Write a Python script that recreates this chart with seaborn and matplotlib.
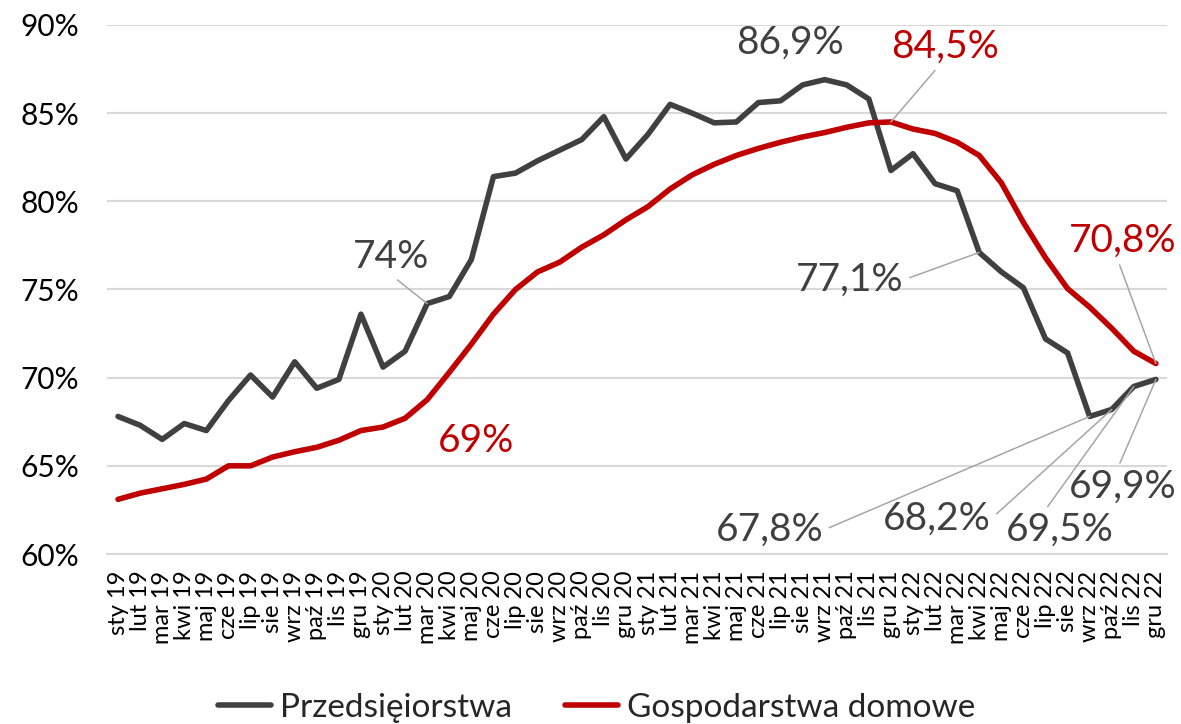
import numpy as np
import pandas as pd
import matplotlib
matplotlib.use("Agg")
import matplotlib.pyplot as plt
import seaborn as sns

# Month labels, Jan 2019 - Dec 2022
months = ["sty", "lut", "mar", "kwi", "maj", "cze", "lip", "sie", "wrz", "paź", "lis", "gru"]
years = ["19", "20", "21", "22"]
tick_labels = [f"{m} {y}" for y in years for m in months]

series_names = ["Przedsięiorstwa", "Gospodarstwa domowe"]

przedsiebiorstwa = [67.8, 67.3, 66.5, 67.4, 67.0, 68.7, 70.15, 68.9, 70.9, 69.4, 69.9, 73.6,
                    70.6, 71.5, 74.2, 74.6, 76.7, 81.4, 81.6, 82.3, 82.9, 83.5, 84.8, 82.4,
                    83.8, 85.5, 85.0, 84.45, 84.5, 85.6, 85.7, 86.6, 86.9, 86.6, 85.8, 81.75,
                    82.7, 81.0, 80.6, 77.1, 76.0, 75.1, 72.2, 71.4, 67.8, 68.2, 69.5, 69.9]
gospodarstwa = [63.1, 63.45, 63.7, 63.95, 64.25, 65.0, 65.0, 65.5, 65.8, 66.05, 66.45, 67.0,
                67.2, 67.7, 68.75, 70.3, 71.9, 73.6, 75.0, 76.0, 76.55, 77.4, 78.1, 78.95,
                79.7, 80.7, 81.5, 82.1, 82.6, 83.0, 83.35, 83.65, 83.9, 84.2, 84.45, 84.5,
                84.1, 83.85, 83.35, 82.6, 81.05, 78.8, 76.8, 75.05, 74.0, 72.8, 71.5, 70.8]

colors = {"Przedsięiorstwa": "#404040", "Gospodarstwa domowe": "#C00000"}

sns.set_theme(style="white")
plt.rcParams["font.family"] = ["Lato", "DejaVu Sans"]

n = len(tick_labels)
df = pd.DataFrame({
    "idx": list(range(n)) * 2,
    "value": przedsiebiorstwa + gospodarstwa,
    "series": [series_names[0]] * n + [series_names[1]] * n,
})

fig = plt.figure(figsize=(11.81, 7.24), dpi=100)
ax = fig.add_axes([0.0906, 0.2348, 0.8975, 0.7307])

sns.lineplot(data=df, x="idx", y="value", hue="series", hue_order=series_names,
             palette=colors, linewidth=4.0, ax=ax, legend=False, sort=False)
for line in ax.lines:
    line.set_solid_joinstyle("round")
    line.set_solid_capstyle("round")

ax.set_xlim(-0.5, n - 0.5)
ax.set_ylim(60, 90)
ax.set_yticks(np.arange(60, 91, 5))
ax.set_yticklabels([f"{v}%" for v in range(60, 91, 5)], fontsize=21.5, color="#000000")
ax.set_xticks(range(n))
ax.set_xticklabels(tick_labels, rotation=90, fontsize=17, color="#000000",
                   ha="center", va="top")
ax.set_xticks(np.arange(-0.5, n, 1), minor=True)
ax.tick_params(axis="x", which="major", length=0, pad=12)
ax.tick_params(axis="x", which="minor", length=10, width=1.2, color="#D9D9D9")
ax.tick_params(axis="y", length=0, pad=20)
ax.set_xlabel("")
ax.set_ylabel("")

ax.yaxis.grid(True, color="#D9D9D9", linewidth=1.5)
ax.set_axisbelow(True)
for side in ["left", "right", "top"]:
    ax.spines[side].set_visible(False)
ax.spines["bottom"].set_color("#D9D9D9")
ax.spines["bottom"].set_linewidth(1.5)


def fmt(v, decimals=1):
    return f"{v:.{decimals}f}".replace(".", ",") + "%"


leader = dict(arrowstyle="-", color="#A6A6A6", lw=1.1, shrinkA=2, shrinkB=0)
dark = colors[series_names[0]]
red = colors[series_names[1]]

# (series values, index, text position, colour, decimals, relpos of leader start or None)
labels = [
    (przedsiebiorstwa, 32, (30.43, 89.0), dark, 1, None),
    (gospodarstwa, 35, (37.45, 88.75), red, 1, (0.45, 0.0)),
    (przedsiebiorstwa, 14, (12.36, 76.85), dark, 0, (0.5, 0.0)),
    (gospodarstwa, 14, (16.2, 66.4), red, 0, None),
    (przedsiebiorstwa, 39, (33.15, 75.55), dark, 1, (1.0, 0.5)),
    (gospodarstwa, 47, (45.5, 77.75), red, 1, (0.45, 0.0)),
    (przedsiebiorstwa, 44, (29.5, 61.35), dark, 1, (1.0, 0.5)),
    (przedsiebiorstwa, 45, (37.1, 62.0), dark, 1, (1.0, 0.5)),
    (przedsiebiorstwa, 46, (42.65, 61.35), dark, 1, (0.35, 1.0)),
    (przedsiebiorstwa, 47, (45.5, 63.8), dark, 1, (0.45, 1.0)),
]
for values, i, (tx, ty), col, dec, relpos in labels:
    text = fmt(values[i], dec)
    if relpos is None:
        ax.text(tx, ty, text, color=col, fontsize=28, ha="center", va="center")
    else:
        props = dict(leader, relpos=relpos)
        ax.annotate(text, xy=(i, values[i]), xytext=(tx, ty), textcoords="data",
                    color=col, fontsize=28, ha="center", va="center",
                    arrowprops=props, annotation_clip=False)

handles = [plt.Line2D([0], [0], color=colors[s], lw=4.0, solid_capstyle="round")
           for s in series_names]
fig.legend(handles, series_names, loc="lower center", bbox_to_anchor=(0.505, -0.04),
           ncol=2, frameon=False, fontsize=24, handlelength=1.6, handletextpad=0.25,
           columnspacing=1.6)

fig.savefig("out.png", dpi=100)
